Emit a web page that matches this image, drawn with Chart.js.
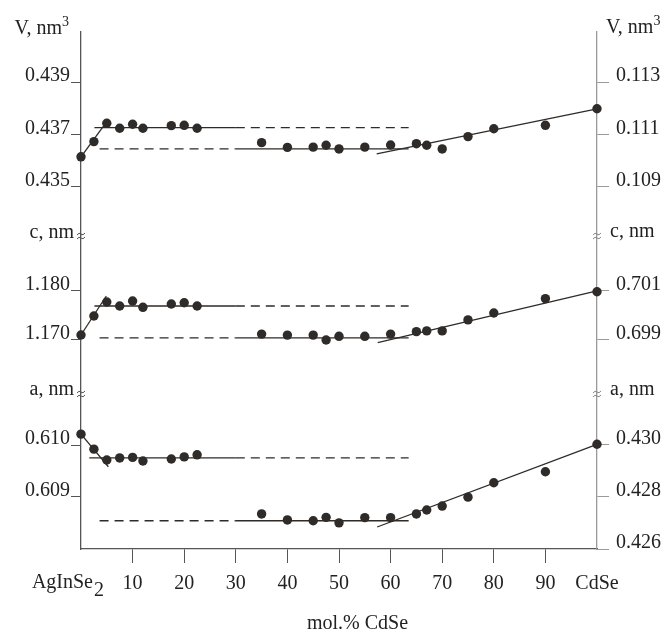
<!DOCTYPE html>
<html lang="en">
<head>
  <meta charset="UTF-8">
  <title>Lattice parameters AgInSe2 - CdSe</title>
  <script src="https://cdn.jsdelivr.net/npm/chart.js"></script>
  <style>
    body {
      margin: 0;
      padding: 0;
      background: #fff;
    }
    #chart {
      display: block;
    }
  </style>
</head>
<body>
  <canvas id="chart" width="669" height="631"></canvas>

  <script>
    // composition, mol.% CdSe
    const xChalco = [0, 2.5, 5, 7.5, 10, 12, 17.5, 20, 22.5];
    const xHex = [35, 40, 45, 47.5, 50, 55, 60, 65, 67, 70, 75, 80, 90, 100];

    // measured points (chalcopyrite phase -> left axes, hexagonal phase -> right axes)
    const vChalco = [0.43615, 0.43673, 0.43743, 0.43724, 0.43739, 0.43724, 0.43734, 0.43735, 0.43724];
    const vHex = [0.11069, 0.11051, 0.11052, 0.11059, 0.11045, 0.11052, 0.1106, 0.11065, 0.11059, 0.11045, 0.11092, 0.11122, 0.11135, 0.11198];
    const cChalco = [1.17092, 1.1748, 1.17765, 1.17684, 1.17786, 1.17657, 1.17724, 1.17751, 1.17684];
    const cHex = [0.69922, 0.69918, 0.69918, 0.69898, 0.69913, 0.69913, 0.69922, 0.69932, 0.69935, 0.69935, 0.6998, 0.70008, 0.70067, 0.70095];
    const aChalco = [0.61021, 0.60992, 0.60971, 0.60975, 0.60976, 0.60969, 0.60973, 0.60977, 0.60981];
    const aHex = [0.42734, 0.42711, 0.42708, 0.42721, 0.427, 0.4272, 0.4272, 0.42734, 0.42749, 0.42764, 0.42798, 0.42853, 0.42895, 0.43];

    // fitted lines
    const vRise = [[0, 0.43615], [5, 0.43749]];
    const cRise = [[0, 1.17092], [4.9, 1.17888]];
    const aRise = [[0, 0.61021], [5.3, 0.60958]];
    const vLevels = [0.43726, 0.11045];
    const cLevels = [1.17684, 0.69907];
    const aLevels = [0.60975, 0.42708];
    const vSlope = [[57.3, 0.11026], [100, 0.11198]];
    const cSlope = [[57.5, 0.69887], [100, 0.70098]];
    const aSlope = [[57.4, 0.42684], [100, 0.430]];
    const upperX = [2.6, 30, 63.5];   // solid, then dashed
    const upperXa = [1.6, 30, 63.5];
    const lowerX = [3.6, 30, 63.5];   // dashed, then solid

    // tick labels
    const xTicks = [0, 10, 20, 30, 40, 50, 60, 70, 80, 90, 100];
    const vTicksL = [0.435, 0.437, 0.439];
    const vTicksR = [0.109, 0.111, 0.113];
    const cTicksL = [1.170, 1.180];
    const cTicksR = [0.699, 0.701];
    const aTicksL = [0.609, 0.610];
    const aTicksR = [0.426, 0.428, 0.430];

    const INK = '#2e2b29';
    const FONT = '"Liberation Serif", "Times New Roman", serif';

    const pts = (xs, ys) => xs.map((x, i) => ({ x, y: ys[i] }));
    const pairs = arr => arr.map(p => ({ x: p[0], y: p[1] }));

    function line(data, axis, dashed) {
      return {
        data, yAxisID: axis, showLine: true, pointRadius: 0, clip: false,
        borderColor: INK, borderWidth: 1.3, borderDash: dashed ? [9, 6] : [],
      };
    }
    function dots(data, axis) {
      return {
        data, yAxisID: axis, showLine: false, pointRadius: 4.7, clip: false,
        pointBackgroundColor: INK, pointBorderColor: INK, pointBorderWidth: 0,
      };
    }

    function panel(key, chY, hxY, rise, levels, slope, upX) {
      const L = key + 'L', R = key + 'R';
      return [
        dots(pts(xChalco, chY), L),
        dots(pts(xHex, hxY), R),
        line(pairs(rise), L, false),
        line([{ x: upX[0], y: levels[0] }, { x: upX[1], y: levels[0] }], L, false),
        line([{ x: upX[1], y: levels[0] }, { x: upX[2], y: levels[0] }], L, true),
        line([{ x: lowerX[0], y: levels[1] }, { x: lowerX[1], y: levels[1] }], R, true),
        line([{ x: lowerX[1], y: levels[1] }, { x: lowerX[2], y: levels[1] }], R, false),
        line(pairs(slope), R, false),
      ];
    }

    const datasets = [
      ...panel('V', vChalco, vHex, vRise, vLevels, vSlope, upperX),
      ...panel('c', cChalco, cHex, cRise, cLevels, cSlope, upperX),
      ...panel('a', aChalco, aHex, aRise, aLevels, aSlope, upperXa),
    ];

    function yAxis(side, min, max, ticks, weight, color) {
      const left = side === 'left';
      return {
        type: 'linear', position: side, stack: side, stackWeight: weight,
        min, max,
        afterBuildTicks: s => { s.ticks = ticks.map(v => ({ value: v })); },
        afterFit: s => { s.width = left ? 81 : 72; },
        border: { display: true, color, width: 1.3 },
        grid: { drawOnChartArea: false, drawTicks: true, tickLength: left ? 10 : 12, color, lineWidth: 1 },
        ticks: {
          color: '#222', font: { family: FONT, size: 20 },
          padding: left ? 1 : 7, labelOffset: -6,
          callback: v => Number(v).toFixed(3),
        },
      };
    }

    // left stack is placed in reverse order, right stack in order
    const scales = {
      x: {
        type: 'linear', min: 0, max: 100,
        afterBuildTicks: s => { s.ticks = xTicks.map(v => ({ value: v })); },
        afterFit: s => { s.height = 82; },
        border: { display: true, color: '#555', width: 1.3 },
        grid: {
          drawOnChartArea: false, tickLength: 14, lineWidth: 1,
          color: ctx => (ctx.tick && (ctx.tick.value === 0 || ctx.tick.value === 100)) ? 'rgba(0,0,0,0)' : '#555',
        },
        ticks: {
          color: '#222', font: { family: FONT, size: 20 }, padding: 9, maxRotation: 0,
          callback: v => v === 0 ? '' : (v === 100 ? 'CdSe' : String(v)),
        },
      },
      aL: yAxis('left', 0.6079884, 0.6110058, aTicksL, 156, '#555'),
      cL: yAxis('left', 1.1590816, 1.1913265, cTicksL, 158, '#555'),
      VL: yAxis('left', 0.4331714, 0.4409048, vTicksL, 203, '#555'),
      VR: yAxis('right', 0.1071714, 0.1149048, vTicksR, 203, '#999'),
      cR: yAxis('right', 0.6968163, 0.7032653, cTicksR, 158, '#999'),
      aR: yAxis('right', 0.426, 0.4319599, aTicksR, 156, '#999'),
    };

    function breakMark(ctx, x, y, color) {
      ctx.save();
      ctx.strokeStyle = color;
      ctx.lineWidth = 1;
      for (const dy of [-2, 2]) {
        ctx.beginPath();
        ctx.moveTo(x - 4, y + dy + 1);
        ctx.quadraticCurveTo(x - 2, y + dy - 2, x, y + dy);
        ctx.quadraticCurveTo(x + 2, y + dy + 2, x + 4, y + dy - 1);
        ctx.stroke();
      }
      ctx.restore();
    }

    const labels = {
      id: 'labels',
      afterDraw(chart) {
        const { ctx, scales: s } = chart;
        const L = s.VL.left + s.VL.width, R = s.VR.left;
        ctx.save();
        ctx.fillStyle = '#222';
        ctx.textBaseline = 'alphabetic';
        const big = '20px ' + FONT, small = '14px ' + FONT;

        // V, nm3 titles
        ctx.font = big; ctx.textAlign = 'right';
        ctx.fillText('V, nm', 62, 34);
        ctx.font = small; ctx.textAlign = 'left';
        ctx.fillText('3', 62, 26);
        ctx.font = big;
        ctx.fillText('V, nm', 606, 33);
        const w = ctx.measureText('V, nm').width;
        ctx.font = small;
        ctx.fillText('3', 606 + w, 25);

        // c, nm / a, nm at the axis breaks
        const yc = s.cL.top, ya = s.aL.top;
        ctx.font = big;
        ctx.textAlign = 'right';
        ctx.fillText('c, nm', 74, yc + 3);
        ctx.fillText('a, nm', 74, ya + 2);
        ctx.textAlign = 'left';
        ctx.fillText('c, nm', 610, yc + 2);
        ctx.fillText('a, nm', 610, ya + 2);
        breakMark(ctx, L, yc + 1, '#555');
        breakMark(ctx, L, ya + 1, '#555');
        breakMark(ctx, R, yc + 1, '#888');
        breakMark(ctx, R, ya + 1, '#888');

        // AgInSe2 at 0
        const x0 = s.x.getPixelForValue(0);
        ctx.font = big;
        ctx.textAlign = 'right';
        ctx.fillText('AgInSe', x0 + 12, 588);
        ctx.textAlign = 'left';
        ctx.fillText('2', x0 + 13, 596);

        // axis title
        ctx.fillText('mol.% CdSe', 307, 629);
        ctx.restore();
      }
    };

    new Chart(document.getElementById('chart'), {
      type: 'scatter',
      data: { datasets },
      options: {
        responsive: false,
        animation: false,
        layout: { padding: { top: 32, left: 0, right: 0, bottom: 0 } },
        plugins: { legend: { display: false }, tooltip: { enabled: false } },
        scales,
      },
      plugins: [labels],
    });
  </script>
</body>
</html>
